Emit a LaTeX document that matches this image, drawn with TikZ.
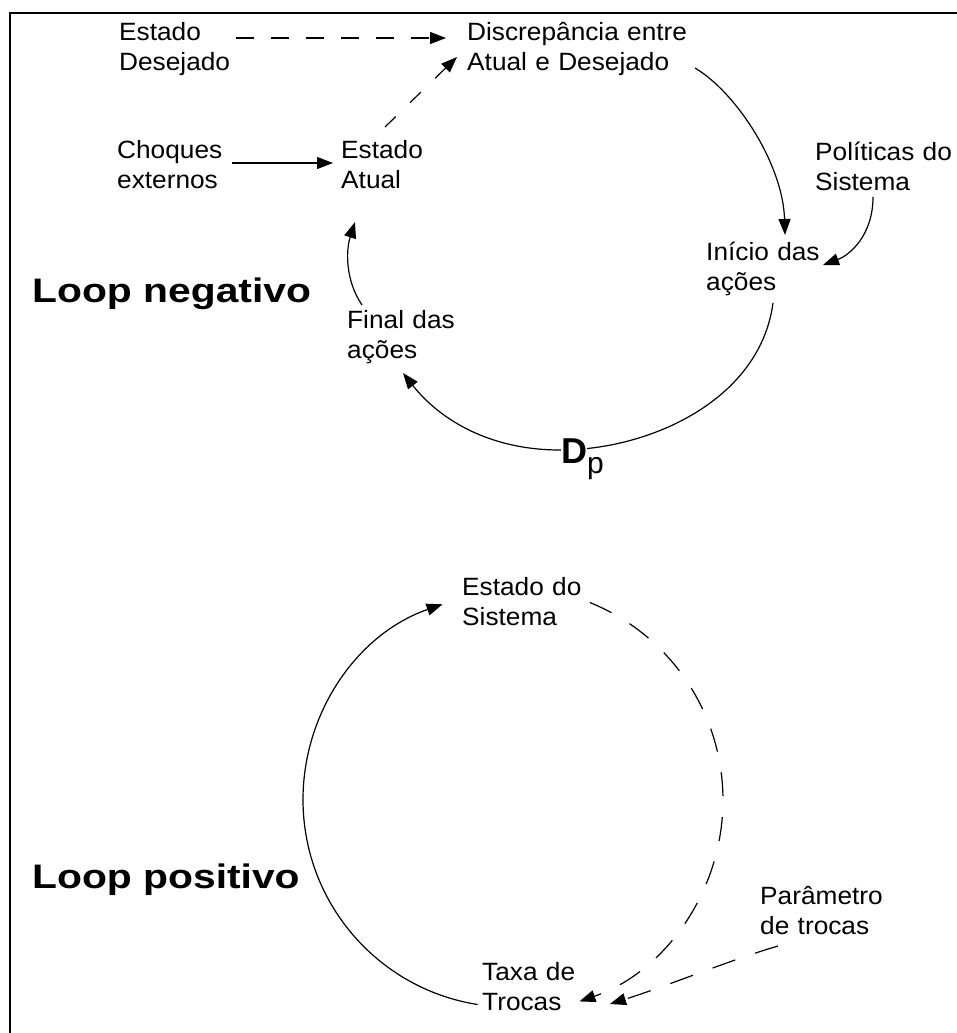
\documentclass[tikz,border=0pt]{standalone}
\usepackage{fontspec}
\setmainfont{Liberation Sans}
\newfontfamily\lblfont{Liberation Sans}[FakeStretch=1.05]
\newfontfamily\loopfont{Liberation Sans}[FakeStretch=1.2]
\usetikzlibrary{arrows.meta}
\begin{document}
\begin{tikzpicture}[x=1pt,y=-1pt,
  lbl/.style={anchor=base west, inner sep=0pt, text width=230pt, align=left,
              font=\lblfont\fontsize{25}{30}\selectfont},
  looptitle/.style={anchor=base west, inner sep=0pt, font=\loopfont\fontsize{34}{40}\bfseries},
  conn/.style={line width=1.2pt},
  tip/.style={conn, -{Triangle[length=16pt,width=12pt]}},
  dashA/.style={dash pattern=on 18pt off 17pt},
  dashB/.style={dash pattern=on 15pt off 20pt},
  dashC/.style={dash pattern=on 24pt off 21pt},
]
\useasboundingbox (0,0) rectangle (957,1033);
\fill[white] (0,0) rectangle (957,1033);
% frame: left and top edges only
\draw[line width=2.5pt] (10,1040) -- (10,13) -- (960,13);

% ---------- negative loop ----------
\node[lbl] (desej) at (119,41) {Estado\\Desejado};
\node[lbl] (discr) at (467,41) {Discrepância entre\\Atual e Desejado};
\node[lbl] (choq)  at (117,158) {Choques\\externos};
\node[lbl] (atual) at (341,158) {Estado\\Atual};
\node[lbl] (polit) at (815,160) {Políticas do\\Sistema};
\node[lbl] (inic)  at (706,260) {Início das\\ações};
\node[lbl] (final) at (347,328) {Final das\\ações};
\node[looptitle] (neg) at (32,302) {Loop negativo};

\coordinate (desejOut) at (236,38);
\coordinate (discrIn1) at (446,38);
\coordinate (atualOut) at (385,127);
\coordinate (discrIn2) at (457,57);
\coordinate (choqOut)  at (232,163);
\coordinate (atualIn)  at (333,163);
\coordinate (discrOut) at (695,68);
\coordinate (inicIn1)  at (785,235);
\coordinate (politOut) at (873,197);
\coordinate (inicIn2)  at (823,265);
\coordinate (inicOut)  at (773,303);
\coordinate (bottomN)  at (560,450);
\coordinate (finalIn)  at (403,373);
\coordinate (finalOut) at (362,305);
\coordinate (atualIn2) at (355,222);

\draw[tip,dashA] (desejOut) -- (discrIn1);
\draw[tip,dashB] (atualOut) -- (discrIn2);
\draw[tip] (choqOut) -- (atualIn);
\draw[tip] (discrOut) .. controls (737,93) and (783,165) .. (inicIn1);
\draw[tip] (politOut) .. controls (873,235) and (850,255) .. (inicIn2);
\draw[tip] (inicOut) .. controls (760,400) and (650,450) .. (bottomN)
                     .. controls (490,450) and (440,420) .. (finalIn);
\draw[tip] (finalOut) .. controls (345,280) and (346,250) .. (atualIn2);
\node[anchor=base west, inner sep=0pt] (dp) at (561,463)
  {{\setlength\fboxsep{0pt}\colorbox{white}{\fontsize{36}{36}\selectfont\bfseries D}}%
   \raisebox{-10pt}{\fontsize{30}{30}\selectfont p}};

% ---------- positive loop ----------
\node[lbl] (estsis) at (462,595) {Estado do\\Sistema};
\node[lbl] (param)  at (760,904) {Parâmetro\\de trocas};
\node[lbl] (taxa)   at (482,980) {Taxa de\\Trocas};
\node[looptitle] (pos) at (32,888) {Loop positivo};

\coordinate (taxaOut)   at (477.6,1004.5);
\coordinate (leftP)     at (303.8,818);
\coordinate (estsisIn)  at (442.6,604.3);
\coordinate (estsisOut) at (589.8,602.5);
\coordinate (rightP)    at (722.9,805.6);
\coordinate (taxaIn1)   at (579.4,1001.4);
\coordinate (paramOut)  at (778,946);
\coordinate (taxaIn2)   at (610,1004);

\draw[tip] (taxaOut) .. controls (383.7,989.7) and (312.1,912.6) .. (leftP)
                     .. controls (295.5,723.4) and (352.7,635.3) .. (estsisIn);
\draw[tip,dashC] (estsisOut) .. controls (672.2,635.8) and (725.2,716.7) .. (rightP)
                             .. controls (720.6,894.5) and (663.5,972.5) .. (taxaIn1);
\draw[tip,dashC] (paramOut) .. controls (730,960) and (670,985) .. (taxaIn2);
\end{tikzpicture}
\end{document}
